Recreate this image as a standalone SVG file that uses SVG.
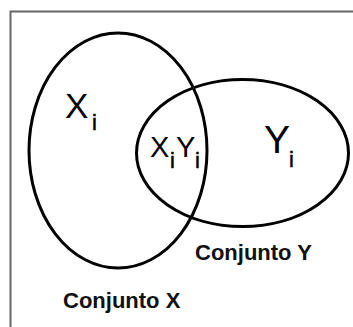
<svg xmlns="http://www.w3.org/2000/svg" width="353" height="327" viewBox="0 0 353 327">
<style>
.set{fill:none;stroke:#000;stroke-width:3}
.lbl{font-family:"Liberation Sans",Arial,sans-serif;fill:#000}
.sub{font-family:"Liberation Sans",Arial,sans-serif;fill:#000;font-size:22px;stroke:#000;stroke-width:0.5}
.cap{font-family:"Liberation Sans",Arial,sans-serif;font-weight:bold;font-size:22px;fill:#111}
</style>
<rect width="353" height="327" fill="#fff"/>
<path d="M10.5 327 V11.5 H353" fill="none" stroke="#666" stroke-width="2"/>
<g id="setX">
<ellipse class="set" cx="118" cy="150.5" rx="89" ry="117.5"/>
<text class="lbl" x="65" y="118" font-size="35">X</text>
<text class="sub" x="92" y="130">i</text>
<text class="cap" x="63" y="308">Conjunto X</text>
</g>
<g id="setY">
<ellipse class="set" cx="242.5" cy="153" rx="106" ry="73.5"/>
<text class="lbl" x="264" y="153" font-size="39">Y</text>
<text class="sub" x="289" y="166.5">i</text>
<text class="cap" x="195" y="260">Conjunto Y</text>
</g>
<g id="intersection">
<text class="lbl" x="150" y="157" font-size="29">X</text>
<text class="sub" x="170" y="168">i</text>
<text class="lbl" x="176" y="157" font-size="29">Y</text>
<text class="sub" x="195" y="168">i</text>
</g>
<g id="connectors"></g>
</svg>
